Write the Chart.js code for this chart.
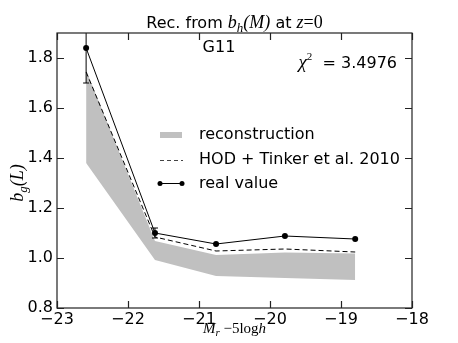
<!DOCTYPE html>
<html>
<head>
<meta charset="utf-8">
<script src="https://cdn.jsdelivr.net/npm/chart.js@4.4.0/dist/chart.umd.min.js"></script>
<style>
  body { margin: 0; background: #fff; }
  canvas { display: block; }
</style>
</head>
<body>
<canvas id="myChart" width="458" height="343"></canvas>
<script>
// values
const magBins = [-22.59, -21.62, -20.76, -19.79, -18.80];
const realValue = [1.84, 1.10, 1.056, 1.088, 1.076];
const realErr = [0.14, 0.02, 0, 0, 0];
const hodTinker = [1.744, 1.084, 1.028, 1.036, 1.024];
const recUpper = [1.752, 1.068, 1.012, 1.022, 1.018];
const recLower = [1.38, 0.992, 0.928, 0.92, 0.912];
const xTicks = [-23, -22, -21, -20, -19, -18];
const yTicks = [0.8, 1.0, 1.2, 1.4, 1.6, 1.8];

const SANS = '"DejaVu Sans", sans-serif';
const SERIF = '"Liberation Serif", "DejaVu Serif", serif';

const pts = arr => magBins.map((x, i) => ({ x: x, y: arr[i] }));
const minus = v => (v < 0 ? "\u2212" + Math.abs(v) : String(v));

// draws a list of text pieces next to each other
function drawRich(ctx, parts, x, y, align) {
    let total = 0;
    parts.forEach(p => { ctx.font = p.font; p.w = ctx.measureText(p.t).width; total += p.w; });
    let cx = align === "right" ? x - total : (align === "left" ? x : x - total / 2);
    ctx.textAlign = "left";
    ctx.textBaseline = "alphabetic";
    parts.forEach(p => {
        ctx.font = p.font;
        ctx.fillText(p.t, cx, y + (p.dy || 0));
        cx += p.w;
    });
}

const decorations = {
    id: "decorations",
    afterDatasetsDraw(chart) {
        const ctx = chart.ctx, xs = chart.scales.x, ys = chart.scales.y, a = chart.chartArea;
        // error bars on the real values
        ctx.save();
        ctx.beginPath();
        ctx.rect(a.left, a.top, a.right - a.left, a.bottom - a.top);
        ctx.clip();
        ctx.strokeStyle = "#000";
        ctx.lineWidth = 1;
        magBins.forEach((m, i) => {
            if (!realErr[i]) return;
            const px = xs.getPixelForValue(m);
            const y1 = ys.getPixelForValue(realValue[i] - realErr[i]);
            const y2 = ys.getPixelForValue(realValue[i] + realErr[i]);
            ctx.beginPath();
            ctx.moveTo(px, y1); ctx.lineTo(px, y2);
            ctx.moveTo(px - 3, y1); ctx.lineTo(px + 3, y1);
            ctx.moveTo(px - 3, y2); ctx.lineTo(px + 3, y2);
            ctx.stroke();
        });
        ctx.restore();
    },
    afterDraw(chart) {
        const ctx = chart.ctx, xs = chart.scales.x, ys = chart.scales.y, a = chart.chartArea;
        ctx.save();
        // frame
        ctx.strokeStyle = "#222";
        ctx.lineWidth = 1.2;
        ctx.strokeRect(a.left, a.top, a.right - a.left, a.bottom - a.top);
        // inward ticks on all four sides
        ctx.beginPath();
        xTicks.forEach(v => {
            const px = Math.round(xs.getPixelForValue(v)) + 0.5;
            ctx.moveTo(px, a.bottom); ctx.lineTo(px, a.bottom - 7);
            ctx.moveTo(px, a.top); ctx.lineTo(px, a.top + 7);
        });
        yTicks.forEach(v => {
            const py = Math.round(ys.getPixelForValue(v)) + 0.5;
            ctx.moveTo(a.left, py); ctx.lineTo(a.left + 7, py);
            ctx.moveTo(a.right, py); ctx.lineTo(a.right - 7, py);
        });
        ctx.stroke();

        ctx.fillStyle = "#000";
        // title
        drawRich(ctx, [
            { t: "Rec. from ", font: "16px " + SANS },
            { t: "b", font: "italic 18px " + SERIF },
            { t: "h", font: "italic 13px " + SERIF, dy: 4 },
            { t: "(M)", font: "italic 18px " + SERIF },
            { t: " at ", font: "16px " + SANS },
            { t: "z", font: "italic 18px " + SERIF },
            { t: "=0", font: "18px " + SERIF }
        ], (a.left + a.right) / 2, 28);
        drawRich(ctx, [{ t: "G11", font: "16px " + SANS }], 219, 52);
        drawRich(ctx, [
            { t: "\u03c7", font: "italic 19px " + SERIF },
            { t: "2", font: "11px " + SERIF, dy: -8 },
            { t: "  = 3.4976", font: "16px " + SANS }
        ], 397, 68, "right");

        // axis labels
        drawRich(ctx, [
            { t: "M", font: "italic 15px " + SERIF },
            { t: "r", font: "italic 11px " + SERIF, dy: 3 },
            { t: " \u22125log", font: "15px " + SERIF },
            { t: "h", font: "italic 15px " + SERIF }
        ], (a.left + a.right) / 2, 333);
        ctx.save();
        ctx.translate(23, 183);
        ctx.rotate(-Math.PI / 2);
        drawRich(ctx, [
            { t: "b", font: "italic 18px " + SERIF },
            { t: "g", font: "italic 13px " + SERIF, dy: 4 },
            { t: "(L)", font: "italic 18px " + SERIF }
        ], 0, 0);
        ctx.restore();

        // legend
        ctx.fillStyle = "#c0c0c0";
        ctx.fillRect(160, 132, 22, 6);
        ctx.strokeStyle = "#444";
        ctx.lineWidth = 1;
        ctx.setLineDash([4, 3]);
        ctx.beginPath(); ctx.moveTo(160, 160.5); ctx.lineTo(183, 160.5); ctx.stroke();
        ctx.setLineDash([]);
        ctx.strokeStyle = "#000";
        ctx.beginPath(); ctx.moveTo(160, 183.5); ctx.lineTo(182, 183.5); ctx.stroke();
        ctx.fillStyle = "#000";
        [160, 182].forEach(px => { ctx.beginPath(); ctx.arc(px, 183.5, 2.5, 0, Math.PI * 2); ctx.fill(); });
        ctx.font = "16px " + SANS;
        ctx.textAlign = "left";
        ctx.textBaseline = "middle";
        ctx.fillText("reconstruction", 199, 135);
        ctx.fillText("HOD + Tinker et al. 2010", 199, 160);
        ctx.fillText("real value", 199, 184);
        ctx.restore();
    }
};

new Chart(document.getElementById("myChart"), {
    type: "line",
    data: {
        datasets: [
            {
                label: "real value",
                data: pts(realValue),
                borderColor: "#000",
                borderWidth: 1,
                pointRadius: 3,
                pointBackgroundColor: "#000",
                pointBorderWidth: 0,
                fill: false,
                tension: 0
            },
            {
                label: "HOD + Tinker et al. 2010",
                data: pts(hodTinker),
                borderColor: "#000",
                borderWidth: 1,
                borderDash: [5, 3],
                pointRadius: 0,
                fill: false,
                tension: 0
            },
            {
                label: "reconstruction",
                data: pts(recUpper),
                borderWidth: 0,
                borderColor: "rgba(0,0,0,0)",
                backgroundColor: "#c0c0c0",
                pointRadius: 0,
                fill: 3,
                tension: 0
            },
            {
                label: "rec lower",
                data: pts(recLower),
                borderWidth: 0,
                borderColor: "rgba(0,0,0,0)",
                pointRadius: 0,
                fill: false,
                tension: 0
            }
        ]
    },
    options: {
        responsive: false,
        animation: false,
        devicePixelRatio: 1,
        layout: { padding: { top: 33, right: 46, left: 0, bottom: 0 } },
        plugins: { legend: { display: false }, title: { display: false }, tooltip: { enabled: false } },
        scales: {
            x: {
                type: "linear",
                min: -23,
                max: -18,
                afterBuildTicks: s => { s.ticks = xTicks.map(v => ({ value: v })); },
                afterFit: s => { s.height = 35; },
                grid: { display: false, drawTicks: false, tickLength: 0 },
                border: { display: false },
                ticks: {
                    color: "#000",
                    font: { family: SANS, size: 16 },
                    padding: 2,
                    maxRotation: 0,
                    autoSkip: false,
                    callback: v => minus(v)
                }
            },
            y: {
                min: 0.8,
                max: 1.9,
                afterBuildTicks: s => { s.ticks = yTicks.map(v => ({ value: v })); },
                afterFit: s => { s.width = 57; },
                grid: { display: false, drawTicks: false, tickLength: 0 },
                border: { display: false },
                ticks: {
                    color: "#000",
                    font: { family: SANS, size: 16 },
                    padding: 4,
                    callback: v => v.toFixed(1)
                }
            }
        }
    },
    plugins: [decorations]
});
</script>
</body>
</html>
